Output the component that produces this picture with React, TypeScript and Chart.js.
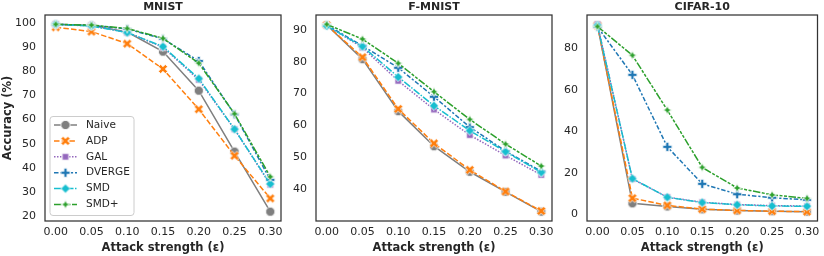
import React, { useEffect, useRef } from 'react';
import { Chart, registerables } from 'chart.js';
Chart.register(...registerables);

// ---------- data ----------
const epsilons = [0, 0.05, 0.1, 0.15, 0.2, 0.25, 0.3];
const xTickLabels = ['0.00', '0.05', '0.10', '0.15', '0.20', '0.25', '0.30'];
const methods = ['Naive', 'ADP', 'GAL', 'DVERGE', 'SMD', 'SMD+'];

const mnistNaive = [99.5, 99.0, 96.3, 88.2, 72.0, 46.7, 21.8];
const mnistADP = [98.3, 96.5, 91.5, 81.0, 64.3, 45.0, 27.3];
const mnistGAL = [99.5, 98.9, 96.2, 90.0, 76.5, 56.0, 33.0];
const mnistDVERGE = [99.5, 99.1, 97.6, 93.5, 84.3, 62.2, 35.0];
const mnistSMD = [99.5, 98.8, 96.1, 90.3, 77.0, 56.0, 33.3];
const mnistSMDplus = [99.5, 99.2, 97.8, 93.7, 83.4, 62.4, 36.3];
const mnistYTicks = [20, 30, 40, 50, 60, 70, 80, 90, 100];

const fmnistNaive = [91.5, 80.8, 64.5, 53.5, 45.5, 39.2, 33.0];
const fmnistADP = [91.5, 81.4, 65.2, 54.4, 46.1, 39.3, 33.2];
const fmnistGAL = [91.3, 84.4, 74.0, 65.0, 57.0, 50.6, 44.5];
const fmnistDVERGE = [91.5, 85.0, 78.1, 69.0, 59.5, 52.0, 45.6];
const fmnistSMD = [91.2, 84.8, 75.2, 66.2, 58.4, 51.8, 45.3];
const fmnistSMDplus = [91.7, 87.1, 79.5, 70.6, 61.9, 54.2, 47.3];
const fmnistYTicks = [40, 50, 60, 70, 80, 90];

const cifarNaive = [91.2, 5.3, 3.8, 2.4, 1.8, 1.5, 1.3];
const cifarADP = [91.0, 7.8, 4.3, 2.5, 1.9, 1.5, 1.3];
const cifarGAL = [91.5, 17.0, 8.3, 5.8, 4.7, 4.2, 4.0];
const cifarDVERGE = [90.3, 67.2, 32.5, 14.7, 9.7, 8.0, 7.0];
const cifarSMD = [91.0, 17.2, 8.2, 5.7, 4.6, 4.0, 3.9];
const cifarSMDplus = [90.5, 76.6, 50.2, 22.6, 12.7, 9.4, 7.7];
const cifarYTicks = [0, 20, 40, 60, 80];

// ---------- styles ----------
const colors = ['#7f7f7f', '#ff7f0e', '#9467bd', '#1f77b4', '#17becf', '#2ca02c'];
const dashes: number[][] = [[], [5.5, 2.2], [1.5, 1.5], [4.5, 1.9, 2.2, 1.9], [7.5, 1.5, 1.5, 1.5], [7.5, 1.5, 3, 1.5, 3, 1.5]];
const markerKinds = ['circle', 'X', 'square', 'P', 'diamond', 'star4'];
const TXT = '#262626';
const FONT = '"DejaVu Sans", sans-serif';

function makeMarker(kind: string, color: string): HTMLCanvasElement {
  const S = 14;
  const c = document.createElement('canvas');
  c.width = S; c.height = S;
  const ctx = c.getContext('2d')!;
  ctx.translate(S / 2, S / 2);
  ctx.fillStyle = color;
  ctx.strokeStyle = '#ffffff';
  ctx.lineWidth = 0.8;
  ctx.lineJoin = 'miter';
  const r = 4.6;
  ctx.beginPath();
  const poly = (pts: number[][], k: number) => {
    pts.forEach((p, i) => (i === 0 ? ctx.moveTo(p[0] * k, p[1] * k) : ctx.lineTo(p[0] * k, p[1] * k)));
    ctx.closePath();
  };
  if (kind === 'circle') {
    ctx.arc(0, 0, r, 0, Math.PI * 2);
  } else if (kind === 'X') {
    poly([[-1, -2], [0, -1], [1, -2], [2, -1], [1, 0], [2, 1], [1, 2], [0, 1], [-1, 2], [-2, 1], [-1, 0], [-2, -1]], r / 2);
  } else if (kind === 'P') {
    poly([[-1, -3], [-1, -1], [-3, -1], [-3, 1], [-1, 1], [-1, 3], [1, 3], [1, 1], [3, 1], [3, -1], [1, -1], [1, -3]], r / 3);
  } else if (kind === 'square') {
    const h = r / Math.SQRT2;
    poly([[-h, -h], [h, -h], [h, h], [-h, h]], 1);
  } else if (kind === 'diamond') {
    poly([[0, -r], [r, 0], [0, r], [-r, 0]], 1);
  } else {
    const ri = r * 0.42;
    const pts: number[][] = [];
    for (let i = 0; i < 8; i++) {
      const a = -Math.PI / 2 + (i * Math.PI) / 4;
      const rr = i % 2 === 0 ? r : ri;
      pts.push([Math.cos(a) * rr, Math.sin(a) * rr]);
    }
    poly(pts, 1);
  }
  ctx.fill();
  ctx.stroke();
  return c;
}

type Panel = {
  title: string;
  series: number[][];
  yTicks: number[];
  left: number;
  width: number;
  yAxisW: number;
  padRight: number;
  yTitle: boolean;
  legend: boolean;
};

const panels: Panel[] = [
  { title: 'MNIST', series: [mnistNaive, mnistADP, mnistGAL, mnistDVERGE, mnistSMD, mnistSMDplus], yTicks: mnistYTicks, left: 0, width: 290, yAxisW: 45, padRight: 9, yTitle: true, legend: true },
  { title: 'F-MNIST', series: [fmnistNaive, fmnistADP, fmnistGAL, fmnistDVERGE, fmnistSMD, fmnistSMDplus], yTicks: fmnistYTicks, left: 290, width: 270, yAxisW: 26, padRight: 8, yTitle: false, legend: false },
  { title: 'CIFAR-10', series: [cifarNaive, cifarADP, cifarGAL, cifarDVERGE, cifarSMD, cifarSMDplus], yTicks: cifarYTicks, left: 560, width: 264, yAxisW: 27, padRight: 2, yTitle: false, legend: false },
];

function ChartPanel({ p }: { p: Panel }) {
  const ref = useRef<HTMLCanvasElement>(null);
  useEffect(() => {
    const markers = markerKinds.map((k, i) => makeMarker(k, colors[i]));
    const all = p.series.flat();
    const lo = Math.min(...all), hi = Math.max(...all);
    const pad = (hi - lo) * 0.05;
    const decor = {
      id: 'decor',
      afterDatasetsDraw(chart: any) {
        const { ctx, chartArea: a } = chart;
        ctx.save();
        ctx.strokeStyle = '#333333';
        ctx.lineWidth = 1.25;
        ctx.strokeRect(a.left, a.top, a.right - a.left, a.bottom - a.top);
        ctx.fillStyle = TXT;
        ctx.textAlign = 'center';
        ctx.textBaseline = 'middle';
        const cx = (a.left + a.right) / 2;
        ctx.font = `bold 11px ${FONT}`;
        ctx.fillText(p.title, cx, 7);
        ctx.font = `bold 11.5px ${FONT}`;
        ctx.fillText('Attack strength (ε)', cx, 248);
        if (p.yTitle) {
          ctx.save();
          ctx.translate(8, (a.top + a.bottom) / 2);
          ctx.rotate(-Math.PI / 2);
          ctx.fillText('Accuracy (%)', 0, 0);
          ctx.restore();
        }
        if (p.legend) {
          const bx = 50, by = 116.5, bw = 84, bh = 99, rad = 3;
          ctx.beginPath();
          ctx.moveTo(bx + rad, by);
          ctx.arcTo(bx + bw, by, bx + bw, by + bh, rad);
          ctx.arcTo(bx + bw, by + bh, bx, by + bh, rad);
          ctx.arcTo(bx, by + bh, bx, by, rad);
          ctx.arcTo(bx, by, bx + bw, by, rad);
          ctx.closePath();
          ctx.fillStyle = 'rgba(255,255,255,0.8)';
          ctx.fill();
          ctx.strokeStyle = '#cccccc';
          ctx.lineWidth = 1;
          ctx.stroke();
          methods.forEach((m, i) => {
            const y = 125 + i * 15.9;
            ctx.save();
            ctx.strokeStyle = colors[i];
            ctx.lineWidth = 1.5;
            ctx.setLineDash(dashes[i]);
            ctx.beginPath();
            ctx.moveTo(54, y);
            ctx.lineTo(77, y);
            ctx.stroke();
            ctx.restore();
            const mk = markers[i];
            ctx.drawImage(mk, 65.5 - mk.width / 2, y - mk.height / 2);
            ctx.fillStyle = TXT;
            ctx.textAlign = 'left';
            ctx.font = `10.5px ${FONT}`;
            ctx.fillText(m, 86, y);
          });
        }
        ctx.restore();
      },
    };
    const chart = new Chart(ref.current!, {
      type: 'line',
      data: {
        datasets: p.series.map((s, i) => ({
          label: methods[i],
          data: s.map((v, j) => ({ x: epsilons[j], y: v })),
          borderColor: colors[i],
          backgroundColor: colors[i],
          borderWidth: 1.5,
          borderDash: dashes[i],
          pointStyle: markers[i] as any,
          pointRadius: 5,
          pointHoverRadius: 5,
          tension: 0,
          order: 5 - i,
          fill: false,
        })),
      },
      options: {
        animation: false,
        responsive: false,
        devicePixelRatio: 1,
        events: [],
        layout: { padding: { left: 0, top: 15, right: p.padRight, bottom: 0 } },
        plugins: { legend: { display: false }, tooltip: { enabled: false }, title: { display: false } },
        scales: {
          x: {
            type: 'linear',
            min: -0.015,
            max: 0.315,
            grid: { display: false, drawTicks: false },
            border: { display: false },
            ticks: {
              font: { family: FONT, size: 11 },
              color: TXT,
              padding: 5,
              maxRotation: 0,
              autoSkip: false,
              callback: (_v: any, i: number) => xTickLabels[i],
            },
            afterBuildTicks: (s: any) => { s.ticks = epsilons.map((v) => ({ value: v })); },
            afterFit: (s: any) => { s.height = 35; s.paddingLeft = 0; s.paddingRight = 0; },
          },
          y: {
            type: 'linear',
            min: lo - pad,
            max: hi + pad,
            grid: { display: false, drawTicks: false },
            border: { display: false },
            ticks: {
              font: { family: FONT, size: 11 },
              color: TXT,
              padding: 9,
              callback: (v: any) => String(v),
            },
            afterBuildTicks: (s: any) => { s.ticks = p.yTicks.map((v) => ({ value: v })); },
            afterFit: (s: any) => { s.width = p.yAxisW; s.paddingTop = 0; s.paddingBottom = 0; },
          },
        },
      },
      plugins: [decor],
    } as any);
    return () => chart.destroy();
  }, [p]);
  return (
    <canvas
      ref={ref}
      width={p.width}
      height={256}
      style={{ position: 'absolute', left: p.left, top: 0, width: p.width, height: 256 }}
    />
  );
}

export default function App() {
  return (
    <div style={{ position: 'fixed', left: 0, top: 0, width: 824, height: 256, background: '#ffffff', overflow: 'hidden' }}>
      {panels.map((p) => (
        <ChartPanel key={p.title} p={p} />
      ))}
    </div>
  );
}
